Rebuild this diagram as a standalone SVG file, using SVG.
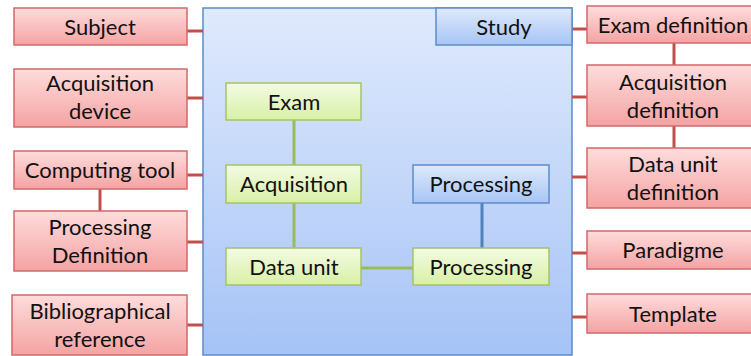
<svg xmlns="http://www.w3.org/2000/svg" width="751" height="356" viewBox="0 0 751 356">
<defs>
<linearGradient id="gRed" x1="0" y1="0" x2="0" y2="1"><stop offset="0" stop-color="#ffdcdc"/><stop offset="1" stop-color="#f4a3a3"/></linearGradient>
<linearGradient id="gGreen" x1="0" y1="0" x2="0" y2="1"><stop offset="0" stop-color="#f3fbe2"/><stop offset="1" stop-color="#d8f0a6"/></linearGradient>
<linearGradient id="gBlue" x1="0" y1="0" x2="0" y2="1"><stop offset="0" stop-color="#dfe9fb"/><stop offset="1" stop-color="#a7c5f5"/></linearGradient>
<linearGradient id="gMain" x1="0" y1="0" x2="0" y2="1"><stop offset="0" stop-color="#e0eafc"/><stop offset="1" stop-color="#a6c3f6"/></linearGradient>
<style>
.r{fill:url(#gRed);stroke:#d06a68;stroke-width:1.5}
.g{fill:url(#gGreen);stroke:#a4c466;stroke-width:1.5}
.b{fill:url(#gBlue);stroke:#5b8ccc;stroke-width:1.5}
.m{fill:url(#gMain);stroke:#5b8ccc;stroke-width:1.5}
text{font-family:Lato,"Liberation Sans",sans-serif;font-size:22px;fill:#111;text-anchor:middle}
.cr{stroke:#c0504d;stroke-width:3;fill:none}
.cg{stroke:#9bbb59;stroke-width:3;fill:none}
.cb{stroke:#4f81bd;stroke-width:3;fill:none}
</style>
</defs>
<g id="study-container"><rect class="m" x="203" y="8" width="369" height="347"/></g>
<g id="connectors">
<path class="cr" d="M187 31H203M187 98H203M187 175H203M187 242H203M187 325H203M100 189V211"/>
<path class="cr" d="M572 29H587M572 97H587M572 177H587M572 253H587M572 317H587M674 43V65M674 126V148"/>
<path class="cg" d="M294 120V165M294 203V248M361 268H413"/>
<path class="cb" d="M482 203V248"/>
</g>
<g id="study"><rect class="b" x="436" y="8" width="136" height="37"/><text x="504" y="35">Study</text></g>
<g id="subject"><rect class="r" x="14" y="8" width="173" height="37"/><text x="100" y="35">Subject</text></g>
<g id="acquisition-device"><rect class="r" x="14" y="69" width="173" height="58"/><text x="100" y="91">Acquisition</text><text x="100" y="119">device</text></g>
<g id="computing-tool"><rect class="r" x="14" y="151" width="173" height="38"/><text x="100" y="178">Computing tool</text></g>
<g id="processing-definition"><rect class="r" x="14" y="211" width="173" height="60"/><text x="100" y="235">Processing</text><text x="100" y="263">Definition</text></g>
<g id="bibliographical-reference"><rect class="r" x="12" y="295" width="175" height="60"/><text x="100" y="319">Bibliographical</text><text x="100" y="347">reference</text></g>
<g id="exam-definition"><rect class="r" x="587" y="6" width="172" height="37"/><text x="673" y="33">Exam definition</text></g>
<g id="acquisition-definition"><rect class="r" x="587" y="65" width="172" height="61"/><text x="673" y="90">Acquisition</text><text x="673" y="118">definition</text></g>
<g id="data-unit-definition"><rect class="r" x="587" y="148" width="172" height="60"/><text x="673" y="172">Data unit</text><text x="673" y="200">definition</text></g>
<g id="paradigme"><rect class="r" x="587" y="231" width="172" height="38"/><text x="673" y="258">Paradigme</text></g>
<g id="template"><rect class="r" x="587" y="294" width="172" height="39"/><text x="673" y="322">Template</text></g>
<g id="exam"><rect class="g" x="226" y="83" width="135" height="37"/><text x="294" y="110">Exam</text></g>
<g id="acquisition"><rect class="g" x="226" y="165" width="135" height="38"/><text x="294" y="192">Acquisition</text></g>
<g id="data-unit"><rect class="g" x="226" y="248" width="135" height="37"/><text x="294" y="275">Data unit</text></g>
<g id="processing-blue"><rect class="b" x="413" y="165" width="136" height="38"/><text x="481" y="192">Processing</text></g>
<g id="processing-green"><rect class="g" x="413" y="248" width="136" height="37"/><text x="481" y="275">Processing</text></g>
</svg>
